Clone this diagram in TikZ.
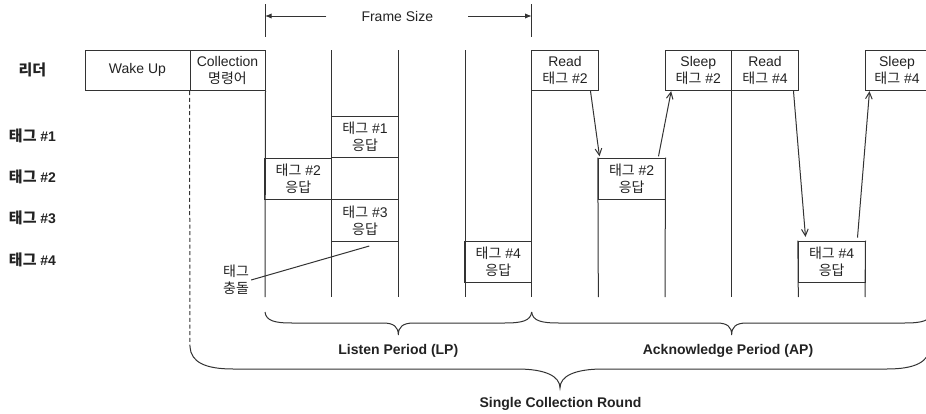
\documentclass[tikz,border=0pt]{standalone}
\usepackage{fontspec}
\setmainfont{Liberation Sans}
\newfontfamily\kr{Noto Sans CJK KR}[Scale=1.0]
\newfontfamily\krb{Noto Sans CJK KR}[Scale=1.07]
\newcommand{\hangul}[1]{{\kr #1}}
\newcommand{\hangulb}[1]{{\krb #1}}
\usetikzlibrary{arrows.meta,calc}
\definecolor{ink}{HTML}{333333}
\definecolor{txt}{HTML}{222222}
\tikzset{
  line/.style={draw=ink, line width=0.75pt},
  box/.style={line, minimum width=50pt, minimum height=31.3pt, inner sep=0pt, align=center, text=txt, font=\fontsize{10.5pt}{13pt}\selectfont},
  lead/.style={box, minimum height=30.5pt},
  lbl/.style={font=\fontsize{10.5pt}{13pt}\selectfont\bfseries, text=txt, inner sep=0pt},
  plain/.style={font=\fontsize{10.5pt}{13pt}\selectfont, text=txt, align=center},
  ack/.style={line, -{Straight Barb[length=5pt,width=5pt]}},
  dimarrow/.style={line, -{Latex[length=5pt,width=4pt]}},
}
\begin{document}
\begin{tikzpicture}[x=0.75pt,y=-0.75pt]
\useasboundingbox (0,0) rectangle (926,414);

% leader row
\node[lead, minimum width=78.75pt] (wake) at (137.5,70.35) {Wake Up};
\node[lead, minimum width=56.25pt] (coll) at (227.5,70.35) {Collection\\\hangul{명령어}};
\node[lead] (read2) at (565,70.35) {Read\\\hangul{태그} \#2};
\node[lead] (sleep2) at (698.33,70.35) {Sleep\\\hangul{태그} \#2};
\node[lead] (read4) at (765,70.35) {Read\\\hangul{태그} \#4};
\node[lead, minimum width=48pt] (sleep4) at (897,70.35) {Sleep\\\hangul{태그} \#4};

% tag responses
\node[box] (t1) at (365,137) {\hangul{태그} \#1\\\hangul{응답}};
\node[box] (t2) at (298.33,179) {\hangul{태그} \#2\\\hangul{응답}};
\node[box] (t3) at (365,220.5) {\hangul{태그} \#3\\\hangul{응답}};
\node[box] (t4) at (498.33,262) {\hangul{태그} \#4\\\hangul{응답}};
\node[box] (a2) at (631.67,179) {\hangul{태그} \#2\\\hangul{응답}};
\node[box] (a4) at (831.67,262) {\hangul{태그} \#4\\\hangul{응답}};

% left labels
\node[lbl] (lr) at (32.5,70) {\hangulb{리더}};
\node[lbl] (l1) at (32.5,136) {\hangulb{태그} \#1};
\node[lbl] (l2) at (32.5,177) {\hangulb{태그} \#2};
\node[lbl] (l3) at (32.5,218) {\hangulb{태그} \#3};
\node[lbl] (l4) at (32.5,260) {\hangulb{태그} \#4};

% slot lines
\draw[line] (coll.south east) -- (265,297);
\foreach \x in {331.67,398.33,465,531.67,731.67} \draw[line] (\x,50) -- (\x,297);
\draw[line] (a2.north west) -- (598.33,297);
\draw[line] (a2.north east) -- (665,297);
\draw[line] (a4.north west) -- (798.33,297);
\draw[line] (a4.north east) -- (865,297);

% dashed start line
\coordinate (scl) at (190,347);
\draw[line, dash pattern=on 3pt off 2pt] (coll.south west) -- (scl);

% collision
\node[plain, inner sep=1.5pt] (clab) at (236,280) {\hangul{태그}\\\hangul{충돌}};
\coordinate (cend) at (369.3,246);
\draw[line] (clab.east) -- (cend);

% acknowledge arrows
\draw[ack] ([xshift=-6.25pt]read2.south east) -- ([xshift=1.25pt,yshift=1pt]a2.north west);
\draw[ack] ([xshift=-5.25pt,yshift=1pt]a2.north east) -- ([xshift=5pt]sleep2.south west);
\draw[ack] ([xshift=-4pt]read4.south east) -- ([xshift=5.75pt,yshift=2.8pt]a4.north west);
\draw[ack] ([xshift=-6pt,yshift=2.25pt]a4.north east) -- ([xshift=3.75pt]sleep4.south west);

% frame size
\node[plain, minimum width=106pt, inner sep=0pt] (fs) at (397.3,16) {Frame Size};
\coordinate (fsl) at (265,16);
\coordinate (fsr) at (531.67,16);
\draw[line] (265,4) -- (265,37);
\draw[line] (531.67,4) -- (531.67,37);
\draw[dimarrow] (fs.west) -- (fsl);
\draw[dimarrow] (fs.east) -- (fsr);

% braces
\draw[line] (265,312) .. controls (266,321) and (275,323) .. (292,323) -- (383,323)
  .. controls (394,323) and (398.33,327) .. (398.33,335)
  .. controls (398.33,327) and (402.67,323) .. (413.67,323) -- (504.67,323)
  .. controls (521.67,323) and (530.67,321) .. (531.67,312);
\draw[line] (531.67,312) .. controls (532.67,321) and (541.67,323) .. (558.67,323) -- (716.67,323)
  .. controls (727.67,323) and (731.67,327) .. (731.67,335)
  .. controls (731.67,327) and (735.67,323) .. (746.67,323) -- (904.67,323)
  .. controls (921.67,323) and (930.67,321) .. (931.67,312);
\draw[line] (scl) .. controls (191,362) and (205,369) .. (233,369) -- (517,369)
  .. controls (545,369) and (560,376) .. (560,388)
  .. controls (560,376) and (575,369) .. (603,369) -- (887,369)
  .. controls (915,369) and (929,362) .. (930,347);

\node[lbl] (lp) at (398.33,351) {Listen Period (LP)};
\node[lbl] (ap) at (728,351) {Acknowledge Period (AP)};
\node[lbl] (scr) at (560.5,404) {Single Collection Round};
\end{tikzpicture}
\end{document}
